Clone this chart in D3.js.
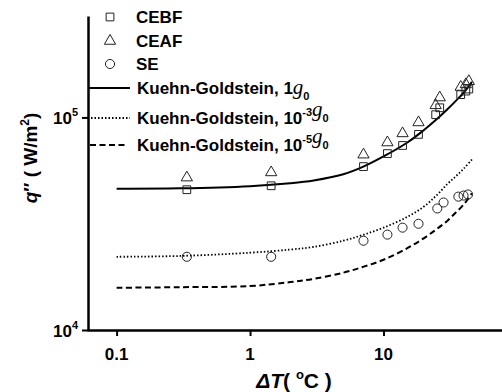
<!DOCTYPE html>
<html>
<head>
<meta charset="UTF-8">
<script src="https://cdn.jsdelivr.net/npm/d3@7"></script>
<style>
body { margin: 0; background: #fff; }
text { font-family: "Liberation Sans", Arial, sans-serif; font-weight: bold; fill: #000; }
</style>
</head>
<body>
<svg width="502" height="392"></svg>
<script>
// measured points, delta T (C) vs heat flux (W/m2)
var dT = [0.336, 1.44, 7.08, 10.7, 13.9, 18.3, 24.6, 26.4, 37.9, 41.4, 43.6];
var cebf = [45700, 47700, 58700, 67600, 73800, 83200, 103000, 111000, 128000, 133000, 136000];
var ceaf = [52100, 55100, 66800, 76200, 84100, 94700, 114000, 124000, 139000, 143000, 148000];
var dTse = [0.336, 1.44, 7.08, 10.7, 13.9, 18.3, 25.3, 28.2, 36.4, 39.8, 43.0];
var se = [22100, 22100, 26300, 28100, 30300, 31600, 37300, 39800, 42400, 42900, 43400];

// Kuehn-Goldstein curves
var dTline = [0.1, 0.3, 1, 2, 3, 5, 7, 10, 15, 20, 25, 30, 35, 40, 46];
var kg1 = [46200, 46400, 47500, 49000, 50500, 54000, 58500, 65500, 76000, 87000, 98000, 109000, 120000, 131000, 147000];
var kg3 = [22100, 22300, 23100, 23900, 24600, 26300, 28000, 30300, 34000, 38000, 43000, 48500, 53000, 57500, 63400];
var kg5 = [15800, 15900, 16100, 16800, 17400, 18600, 19800, 21400, 24200, 27000, 29800, 32600, 35800, 39000, 44000];

var xMajor = [0.1, 1, 10];
var xMinor = [0.07, 0.08, 0.09, 0.2, 0.3, 0.4, 0.5, 0.6, 0.7, 0.8, 0.9,
              2, 3, 4, 5, 6, 7, 8, 9, 20, 30, 40, 50, 60, 70];
var yMajor = [1e4, 1e5];
var yMinor = [2e4, 3e4, 4e4, 5e4, 6e4, 7e4, 8e4, 9e4, 2e5, 3e5];

var svg = d3.select("svg");

var x = d3.scaleLog().domain([0.06, 80]).range([87, 504]);
var y = d3.scaleLog().domain([1e4, 3e5]).range([330, 16]);

// axes
var gx = svg.append("g").attr("transform", "translate(0,330)");
gx.call(d3.axisBottom(x).tickValues(xMinor).tickSize(3).tickSizeOuter(0).tickFormat(""));
gx.call(d3.axisBottom(x).tickValues(xMajor).tickSize(6).tickSizeOuter(0).tickFormat(""));
gx.selectAll("path,line").attr("stroke", "#000").attr("stroke-width", 2);
gx.select(".domain").attr("stroke-width", 2.5);

var gy = svg.append("g").attr("transform", "translate(88,0)");
gy.call(d3.axisLeft(y).tickValues(yMinor).tickSize(3).tickSizeOuter(0).tickFormat(""));
gy.call(d3.axisLeft(y).tickValues(yMajor).tickSize(6).tickSizeOuter(0).tickFormat(""));
gy.selectAll("path,line").attr("stroke", "#000").attr("stroke-width", 2);
gy.select(".domain").attr("stroke-width", 2.5);

// tick labels
svg.append("g").selectAll("text").data(xMajor).enter().append("text")
  .attr("x", function(d) { return x(d); })
  .attr("y", 360)
  .attr("text-anchor", "middle")
  .style("font-size", "17px")
  .text(function(d) { return d; });

var yl = svg.append("g").selectAll("text").data(yMajor).enter().append("text")
  .attr("x", 78)
  .attr("y", function(d) { return y(d) + 7; })
  .attr("text-anchor", "end")
  .style("font-size", "17px");
yl.append("tspan").text("10");
yl.append("tspan").attr("dy", -8).style("font-size", "11px")
  .text(function(d) { return Math.round(Math.log10(d)); });

// axis titles
var ty = svg.append("text")
  .attr("transform", "translate(37,158) rotate(-90)")
  .attr("text-anchor", "middle")
  .style("font-size", "19px");
ty.append("tspan").style("font-style", "italic").text("q");
ty.append("tspan").text("\u2033 ( W/m");
ty.append("tspan").attr("dy", -8).style("font-size", "12px").text("2");
ty.append("tspan").attr("dy", 8).text(")");

var tx = svg.append("text")
  .attr("x", 294).attr("y", 388)
  .attr("text-anchor", "middle")
  .style("font-size", "21px");
tx.append("tspan").style("font-style", "italic").text("\u0394T");
tx.append("tspan").text("(  ");
tx.append("tspan").attr("dy", -9).style("font-size", "13px").text("o");
tx.append("tspan").attr("dy", 9).text("C )");

// curves
var line = d3.line()
  .x(function(d) { return x(d[0]); })
  .y(function(d) { return y(d[1]); })
  .curve(d3.curveCatmullRom);

function curve(vals, dash, w) {
  svg.append("path")
    .datum(d3.zip(dTline, vals))
    .attr("d", line)
    .attr("fill", "none")
    .attr("stroke", "#000")
    .attr("stroke-width", w)
    .attr("stroke-dasharray", dash);
}
curve(kg1, null, 2);
curve(kg3, "1.5,2", 1.8);
curve(kg5, "6,3.5", 2);

// markers
var sym = d3.symbol();
function markers(xs, ys, type, size) {
  svg.append("g").selectAll("path").data(d3.zip(xs, ys)).enter().append("path")
    .attr("transform", function(d) { return "translate(" + x(d[0]) + "," + y(d[1]) + ")"; })
    .attr("d", sym.type(type).size(size)())
    .attr("fill", "none")
    .attr("stroke", "#222")
    .attr("stroke-width", 1);
}
markers(dT, cebf, d3.symbolSquare, 60);
markers(dT, ceaf, d3.symbolTriangle, 55);
markers(dTse, se, d3.symbolCircle, 65);

// legend
var leg = svg.append("g");
var symItems = [["CEBF", d3.symbolSquare, 60, 17], ["CEAF", d3.symbolTriangle, 55, 41], ["SE", d3.symbolCircle, 65, 64]];
symItems.forEach(function(s) {
  leg.append("path")
    .attr("transform", "translate(110," + s[3] + ")")
    .attr("d", d3.symbol().type(s[1]).size(s[2])())
    .attr("fill", "none").attr("stroke", "#222");
  leg.append("text").attr("x", 136).attr("y", s[3] + 6)
    .style("font-size", "17px").text(s[0]);
});

var lineItems = [["", null, 88, 89, 130], ["-3", "1.5,2", 118, 91, 130], ["-5", "6,3.5", 145, 90, 128]];
lineItems.forEach(function(s) {
  leg.append("line")
    .attr("x1", s[3]).attr("x2", s[4]).attr("y1", s[2]).attr("y2", s[2])
    .attr("stroke", "#000").attr("stroke-width", 2)
    .attr("stroke-dasharray", s[1]);
  var t = leg.append("text").attr("x", 137).attr("y", s[2] + 6).style("font-size", "17px");
  if (s[0] == "") {
    t.append("tspan").text("Kuehn-Goldstein, 1");
  } else {
    t.append("tspan").text("Kuehn-Goldstein, 10");
    t.append("tspan").attr("dy", -8).style("font-size", "11px").text(s[0]);
    t.append("tspan").attr("dy", 8).text("");
  }
  t.append("tspan")
    .style("font-family", "'Liberation Serif', 'Times New Roman', serif")
    .style("font-style", "italic").style("font-weight", "normal")
    .style("font-size", "21px").text("g");
  t.append("tspan").attr("dy", 6).style("font-size", "11px").text("0");
});
</script>
</body>
</html>
